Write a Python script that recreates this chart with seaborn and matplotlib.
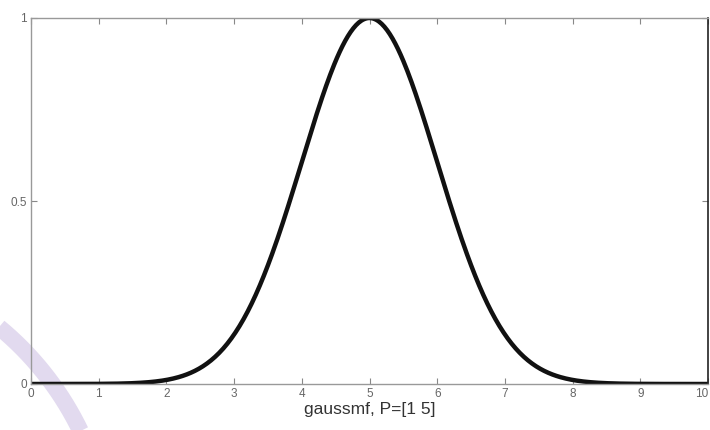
import numpy as np
import pandas as pd
import seaborn as sns
import matplotlib
matplotlib.use("Agg")
import matplotlib.pyplot as plt

# gaussmf parameters [sigma, center] as given in the axis label
sigma = 1.0
center = 5.0
x_range = [0.0, 10.0]

x_ticks = [0, 1, 2, 3, 4, 5, 6, 7, 8, 9, 10]
y_ticks = [0, 0.5, 1]
y_tick_labels = ["0", "0.5", "1"]
x_label = "gaussmf, P=[1 5]"

sns.set_style("ticks")
plt.rcParams["font.family"] = ["Liberation Sans", "DejaVu Sans"]

x = np.linspace(x_range[0], x_range[1], 501)
df = pd.DataFrame({"x": x, "mu": np.exp(-((x - center) ** 2) / (2 * sigma ** 2))})

fig = plt.figure(figsize=(7.1, 4.3), dpi=100)
fig.patch.set_facecolor("white")

# decorative lavender arc in the lower-left corner (figure pixel space)
bg = fig.add_axes([0, 0, 1, 1], zorder=0)
bg.set_xlim(0, 710)
bg.set_ylim(430, 0)
bg.axis("off")
r = 307.5
cx, cy = -196.5, 564.5
ang = np.linspace(np.deg2rad(-75), np.deg2rad(-20), 300)
bg.plot(cx + r * np.cos(ang), cy + r * np.sin(ang), color="#e2daef", lw=12,
        solid_capstyle="butt")

ax = fig.add_axes([31 / 710, 1 - 384 / 430, 677 / 710, 366 / 430], zorder=1)
ax.set_facecolor("none")
sns.lineplot(data=df, x="x", y="mu", ax=ax, color="#111111", linewidth=3.2)

ax.set_xlim(*x_range)
ax.set_ylim(0, 1)
ax.set_xticks(x_ticks)
ax.set_xticklabels([str(t) for t in x_ticks])
ax.set_yticks(y_ticks)
ax.set_yticklabels(y_tick_labels)
ax.tick_params(direction="in", length=4, width=0.8, color="#888888",
               labelsize=8.5, labelcolor="#666666", top=True, right=True, pad=3)
# keep the last x tick label inside the figure edge
ax.get_xticklabels()[-1].set_horizontalalignment("right")
ax.set_xlabel(x_label, fontsize=12.5, color="#333333", labelpad=1)
ax.set_ylabel("")

for side in ["left", "top", "bottom"]:
    ax.spines[side].set_color("#999999")
    ax.spines[side].set_linewidth(1.0)
ax.spines["right"].set_color("#222222")
ax.spines["right"].set_linewidth(1.2)

fig.savefig("out.png", dpi=100, facecolor="white")
